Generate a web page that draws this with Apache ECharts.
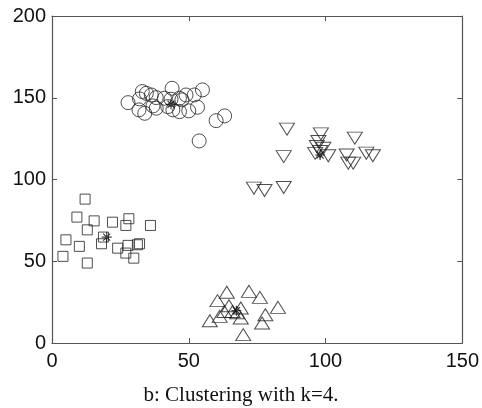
<!DOCTYPE html>
<html><head><meta charset="utf-8">
<script src="https://cdn.jsdelivr.net/npm/echarts@6/dist/echarts.min.js"></script>
<style>html,body{margin:0;padding:0;background:#fff}#c{width:482px;height:408px}</style>
</head><body><div id="c"></div>
<script>
const xTicks = [0, 50, 100, 150];
const yTicks = [0, 50, 100, 150, 200];
const caption = "b: Clustering with k=4.";

const circles = [[27.8,147],[32,149.3],[33,153.8],[34.5,152.7],[31.8,142.6],[33.9,140.5],[36.3,151.7],[38.1,150.1],[38.1,143.6],[41.1,149.7],[43.9,155.8],[43.5,149.1],[44.2,142.6],[46.6,141.5],[47.5,148.7],[49,151.7],[50,142],[52,151.7],[53.2,144.2],[55,154.8],[60,136],[63.1,138.9],[53.8,123.6],[36.9,145],[42.3,144.6],[46.6,149.7]];
const triDown = [[85.9,130.8],[84.7,114],[73.8,94.7],[77.7,93.3],[84.7,95.1],[98.3,127.9],[97.4,123.2],[96.8,120.2],[98,117.1],[101,114.5],[99.2,119.1],[110.7,125.3],[107.7,115],[108.3,110],[110.1,110],[114.9,116.1],[117.3,114.5],[96.2,116]];
const squares = [[12.1,88],[9.1,77],[15.4,74.7],[12.9,69.2],[22.1,73.9],[28.1,76],[27,71.9],[36,71.9],[5.1,63.1],[10,59.1],[4,53],[12.9,48.9],[18.1,60.7],[18.8,64.8],[24,58],[27,55],[27.8,59.7],[29.9,51.9],[31.2,60.1],[32,60.7]];
const triUp = [[63.9,31],[60.5,25.9],[72,31.6],[76,27.9],[82.6,21.8],[57.7,13.6],[61.3,16.3],[64.7,22.8],[66,19.3],[69,21.4],[69,15.3],[69.9,5.1],[76.8,12.2],[78,17.3],[67.7,18.5],[63,19.3]];
const centroids = [[43.5,146],[98,115],[20,64.8],[67.4,19.8]];

const chart = echarts.init(document.getElementById('c'));
const lineC = '#555';
const hollow = {color:'rgba(0,0,0,0)', borderColor:'#222', borderWidth:1};
const baseAxis = (type, pos, show) => ({
  type:'value', min:0, max: type==='x'?150:200, interval:50, position:pos,
  axisLine:{show:true, onZero:false, lineStyle:{color:lineC, width:1.2}},
  axisTick:{show:true, inside:true, length:5, lineStyle:{color:lineC}},
  axisLabel:{show:show, color:'#111', fontSize:20, fontFamily:'Liberation Sans, Arial, sans-serif', margin: type==='x'?8:6},
  splitLine:{show:false}
});
chart.setOption({
  animation:false,
  backgroundColor:'#fff',
  title:{text:caption, left:'center', top:380, textStyle:{fontFamily:'Liberation Serif, Times New Roman, serif', fontSize:21, fontWeight:'normal', color:'#111'}},
  grid:{left:52, right:17, top:16, bottom:65},
  xAxis:[baseAxis('x','bottom',true), baseAxis('x','top',false)],
  yAxis:[baseAxis('y','left',true), baseAxis('y','right',false)],
  series:[
    {type:'scatter', data:circles, symbol:'circle', symbolSize:14, itemStyle:hollow},
    {type:'scatter', data:triDown, symbol:'triangle', symbolRotate:180, symbolSize:[15,12], itemStyle:hollow},
    {type:'scatter', data:squares, symbol:'rect', symbolSize:10, itemStyle:hollow},
    {type:'scatter', data:triUp, symbol:'triangle', symbolSize:[15,12], itemStyle:hollow},
    {type:'scatter', data:centroids, symbol:'path://M0,-1L0,1M-1,0L1,0M-0.7,-0.7L0.7,0.7M-0.7,0.7L0.7,-0.7', symbolSize:10, itemStyle:{color:'rgba(0,0,0,0)', borderColor:'#111', borderWidth:1.2}}
  ]
});
</script></body></html>
